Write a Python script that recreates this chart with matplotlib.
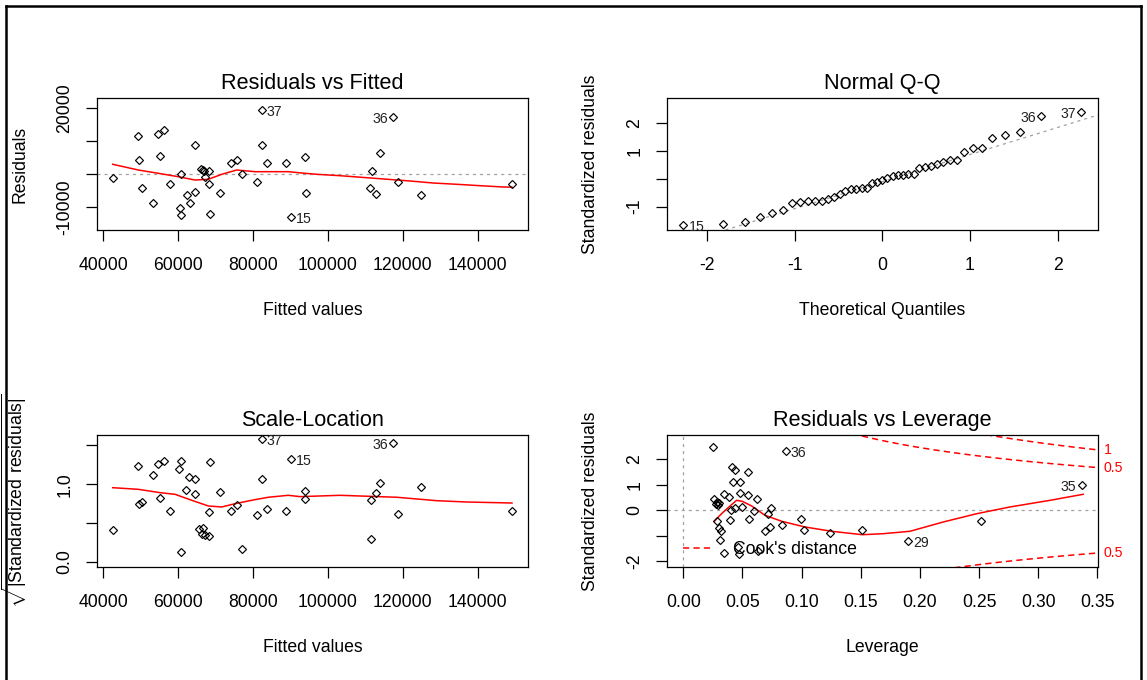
import numpy as np
import matplotlib
matplotlib.use("Agg")
import matplotlib.pyplot as plt
from matplotlib.lines import Line2D
from statistics import NormalDist

plt.rcParams['font.family'] = ['Liberation Sans', 'DejaVu Sans']
plt.rcParams['mathtext.fontset'] = 'custom'
plt.rcParams['mathtext.rm'] = 'Liberation Sans'
plt.rcParams['lines.scale_dashes'] = False

# ---- Residuals vs Fitted ----
fitted = [42510, 49190, 49540, 50420, 53360, 54700, 56300, 55150, 57820, 60760,
          60490, 60760, 62280, 63090, 64420, 64500, 66030, 66560, 66910, 68320,
          67170, 68240, 68590, 71180, 74040, 75640, 77140, 81150, 82320, 82320,
          83820, 88900, 90150, 93810, 94160, 111720, 113940, 111350, 112870, 117410,
          118750, 124810, 149200]
residuals = [-1030, 11520, 4420, -4060, -8700, 12300, 13330, 5640, -2850, 90,
             -10300, -12420, -6180, -8700, 8970, -5450, 1610, 1300, 910, 1090,
             -730, -2850, -12030, -5760, 3520, 4420, 90, -2420, 19480, 8970,
             3520, 3520, -12940, 5240, -5760, 1000, 6450, -4240, -5970, 17360,
             -2420, -6180, -2850]
rvf_smooth_x = [42510, 49350, 54700, 60040, 64500, 68060, 71640, 75650, 80540, 89430,
                93900, 97020, 103250, 110380, 121950, 128180, 134430, 140660, 146880, 149200]
rvf_smooth_y = [3030, 1300, 300, -730, -1730, -1520, 0, 1300, 790, 790,
                300, 0, -420, -1030, -2030, -2640, -3030, -3450, -3850, -3900]
rvf_id_idx = [28, 39, 32]
rvf_id_lab = ["37", "36", "15"]

# ---- Normal Q-Q (sorted standardized residuals) ----
qq_std = [-1.666, -1.618, -1.570, -1.378, -1.234, -1.138, -0.886, -0.826, -0.800, -0.795,
          -0.790, -0.730, -0.646, -0.538, -0.442, -0.370, -0.360, -0.350, -0.322, -0.160,
          -0.130, -0.047, 0.037, 0.109, 0.133, 0.135, 0.157, 0.169, 0.397, 0.433,
          0.469, 0.517, 0.589, 0.673, 0.680, 0.972, 1.092, 1.116, 1.476, 1.572,
          1.668, 2.267, 2.414]
qq_id_idx = [0, 41, 42]
qq_id_lab = ["15", "36", "37"]

# ---- Scale-Location ----
sl_fitted = [42510, 49190, 49540, 50340, 53360, 54700, 56300, 55150, 57820, 60760,
             60310, 60760, 62980, 64500, 62100, 64500, 68510, 65650, 66720, 66450,
             67170, 68320, 68240, 71180, 74040, 75650, 77140, 81150, 82330, 82330,
             83820, 88900, 90150, 93900, 93820, 111610, 112870, 113940, 111610, 117410,
             118740, 124810, 149200]
sl_sqrt = [0.407, 1.230, 0.742, 0.767, 1.122, 1.264, 1.302, 0.819, 0.656, 1.302,
           1.195, 0.125, 1.093, 1.067, 0.925, 0.874, 1.281, 0.424, 0.433, 0.364,
           0.343, 0.330, 0.639, 0.896, 0.659, 0.737, 0.163, 0.608, 1.585, 1.071,
           0.677, 0.659, 1.320, 0.909, 0.814, 0.797, 0.891, 1.015, 0.300, 1.533,
           0.621, 0.964, 0.659]
sl_smooth_x = [42510, 49350, 55150, 59160, 63620, 68060, 71640, 75190, 79650, 84090,
               89430, 92560, 103250, 118400, 129080, 137100, 149200]
sl_smooth_y = [0.955, 0.934, 0.891, 0.870, 0.793, 0.720, 0.707, 0.749, 0.793, 0.832,
               0.857, 0.840, 0.857, 0.832, 0.788, 0.771, 0.758]
sl_id_idx = [28, 39, 32]
sl_id_lab = ["37", "36", "15"]

# ---- Residuals vs Leverage ----
leverage = [0.0254, 0.0262, 0.0276, 0.0296, 0.0285, 0.0304, 0.0282, 0.0302, 0.0316, 0.0310,
            0.0344, 0.0344, 0.0386, 0.0403, 0.0395, 0.0409, 0.0440, 0.0423, 0.0479, 0.0440,
            0.0479, 0.0499, 0.0549, 0.0549, 0.0558, 0.0595, 0.0620, 0.0465, 0.0473, 0.0634,
            0.0690, 0.0733, 0.0741, 0.0713, 0.0837, 0.0865, 0.0992, 0.1020, 0.1242, 0.1513,
            0.1900, 0.2513, 0.3366]
lev_std = [2.473, 0.430, 0.258, 0.195, 0.324, 0.297, -0.430, -0.690, -0.820, -1.170,
           -1.656, 0.637, 0.530, 0.000, -0.390, 1.690, 1.560, 1.105, 1.105, 0.090,
           0.676, 0.129, 1.496, 0.586, -0.352, -0.040, 0.453, -1.434, -1.695, -1.602,
           -0.820, -0.652, 0.090, -0.133, -0.563, 2.316, -0.352, -0.780, -0.887, -0.780,
           -1.210, -0.405, 1.000]
lev_smooth_x = [0.0262, 0.0324, 0.0395, 0.0451, 0.0499, 0.0578, 0.0690, 0.0832, 0.1028, 0.1254,
                0.1513, 0.1690, 0.1916, 0.2197, 0.2480, 0.2760, 0.3100, 0.3380]
lev_smooth_y = [-0.430, -0.130, 0.168, 0.390, 0.350, 0.168, -0.195, -0.430, -0.652, -0.820,
                -0.953, -0.914, -0.820, -0.457, -0.133, 0.129, 0.390, 0.625]
lev_id_idx = [35, 40, 42]
lev_id_lab = ["36", "29", "35"]
cook_levels = [0.5, 1.0]
n_coef = 3

W, H = 1147, 680
fig = plt.figure(figsize=(W / 100, H / 100), dpi=100)

FS = 12.7
GRAY = '#a0a0a0'


def add_box(x0, x1, y0, y1):
    return fig.add_axes([x0 / W, 1 - y1 / H, (x1 - x0) / W, (y1 - y0) / H])


def style(ax, xlim, ylim, xt, xtl, yt, ytl, title, xlabel, ylabel):
    ax.set_xlim(xlim)
    ax.set_ylim(ylim)
    ax.set_xticks(xt, xtl)
    ax.set_yticks(yt, ytl, rotation=90, va='center')
    ax.tick_params(direction='out', length=8, width=0.9, labelsize=FS, color='black')
    ax.tick_params(axis='x', pad=11.6)
    ax.tick_params(axis='y', pad=8.9)
    for s in ax.spines.values():
        s.set_linewidth(0.9)
    ax.set_title(title, fontsize=15.6, pad=6.3)
    ax.set_xlabel(xlabel, fontsize=FS)
    ax.xaxis.set_label_coords(0.5, -0.545)
    ax.set_ylabel(ylabel, fontsize=FS)
    ax.yaxis.set_label_coords(-0.1587, 0.5)


def points(ax, x, y):
    ax.plot(x, y, ls='none', marker='D', ms=3.8, mfc='none', mec='black', mew=0.85, zorder=3)


def ids(ax, x, y, idx, lab, sides):
    for i, t, s in zip(idx, lab, sides):
        dx = 3.8 if s == 'r' else -3.8
        ax.annotate(t, (x[i], y[i]), xytext=(dx, -1.4), textcoords='offset points',
                    ha='left' if s == 'r' else 'right', va='center', fontsize=10.2,
                    color='#222222', annotation_clip=False)


# Panel 1
ax1 = add_box(97, 528, 98, 230)
style(ax1, (38317, 153480), (-16879, 23121),
      [40000, 60000, 80000, 100000, 120000, 140000],
      ["40000", "60000", "80000", "100000", "120000", "140000"],
      [-10000, 0, 10000, 20000], ["-10000", "", "", "20000"],
      "Residuals vs Fitted", "Fitted values", "Residuals")
ax1.axhline(0, color=GRAY, lw=0.9, ls=(0, (2.2, 2.9)))
points(ax1, fitted, residuals)
ax1.plot(rvf_smooth_x, rvf_smooth_y, color='red', lw=1.1)
ids(ax1, fitted, residuals, rvf_id_idx, rvf_id_lab, ['r', 'l', 'r'])

# Panel 2
n = len(qq_std)
theo = [NormalDist().inv_cdf((i + 0.5) / n) for i in range(n)]
ax2 = add_box(667, 1098, 98, 230)
style(ax2, (-2.456, 2.461), (-1.845, 2.903),
      [-2, -1, 0, 1, 2], ["-2", "-1", "0", "1", "2"],
      [-1, 0, 1, 2], ["-1", "", "1", "2"],
      "Normal Q-Q", "Theoretical Quantiles", "Standardized residuals")
q25, q75 = np.quantile(qq_std, [0.25, 0.75])
z25, z75 = NormalDist().inv_cdf(0.25), NormalDist().inv_cdf(0.75)
slope = (q75 - q25) / (z75 - z25)
ax2.axline((0, q25 - slope * z25), slope=slope, color=GRAY, lw=0.9, ls=(0, (2.2, 2.9)))
points(ax2, theo, qq_std)
ids(ax2, theo, qq_std, qq_id_idx, qq_id_lab, ['r', 'l', 'l'])

# Panel 3
ax3 = add_box(97, 528, 435, 567)
style(ax3, (38317, 153480), (-0.0643, 1.632),
      [40000, 60000, 80000, 100000, 120000, 140000],
      ["40000", "60000", "80000", "100000", "120000", "140000"],
      [0.0, 0.5, 1.0, 1.5], ["0.0", "", "1.0", ""],
      "Scale-Location", "Fitted values",
      r'$\sqrt{\mathrm{|Standardized\ residuals|}}$')
points(ax3, sl_fitted, sl_sqrt)
ax3.plot(sl_smooth_x, sl_smooth_y, color='red', lw=1.1)
ids(ax3, sl_fitted, sl_sqrt, sl_id_idx, sl_id_lab, ['r', 'l', 'r'])

# Panel 4
ax4 = add_box(667, 1098, 435, 567)
lev_xlim = (-0.01378, 0.3505)
lev_ylim = (-2.215, 2.941)
style(ax4, lev_xlim, lev_ylim,
      [0.0, 0.05, 0.10, 0.15, 0.20, 0.25, 0.30, 0.35],
      ["0.00", "0.05", "0.10", "0.15", "0.20", "0.25", "0.30", "0.35"],
      [-2, -1, 0, 1, 2], ["-2", "", "0", "1", "2"],
      "Residuals vs Leverage", "Leverage", "Standardized residuals")
ax4.axhline(0, color=GRAY, lw=0.9, ls=(0, (2.2, 2.9)))
ax4.axvline(0, color=GRAY, lw=0.9, ls=(0, (2.2, 2.9)))
points(ax4, leverage, lev_std)
ax4.plot(lev_smooth_x, lev_smooth_y, color='red', lw=1.1)
hh = np.linspace(min(min(leverage), max(leverage) / 100), lev_xlim[1], 101)
for lv in cook_levels:
    cl = np.sqrt(lv * n_coef * (1 - hh) / hh)
    ax4.plot(hh, cl, color='red', lw=1.1, ls=(0, (4.5, 3.0)))
    ax4.plot(hh, -cl, color='red', lw=1.1, ls=(0, (4.5, 3.0)))
    yend = cl[-1]
    for yy in (yend, -yend):
        if lev_ylim[0] < yy < lev_ylim[1]:
            ax4.text(1 + 5.5 / 431, yy, f"{lv:g}", transform=ax4.get_yaxis_transform(),
                     ha='left', va='center', fontsize=10.2, color='red', clip_on=False)
ids(ax4, leverage, lev_std, lev_id_idx, lev_id_lab, ['r', 'r', 'l'])
ax4.legend(handles=[Line2D([], [], color='red', lw=1.1, ls=(0, (4.5, 3.0)))],
           labels=["Cook's distance"], loc='center left', bbox_to_anchor=(0.0371, 0.1326),
           frameon=False, borderpad=0, borderaxespad=0, handlelength=1.7,
           handletextpad=1.14, fontsize=FS)

# outer frame
for xs, ys in [((6, 6), (0, 674)), ((6, 1141), (674, 674)), ((1141, 1141), (0, 674))]:
    fig.add_artist(Line2D([x / W for x in xs], [y / H for y in ys],
                          color='black', lw=1.8, transform=fig.transFigure))

fig.savefig("out.png", dpi=100)
